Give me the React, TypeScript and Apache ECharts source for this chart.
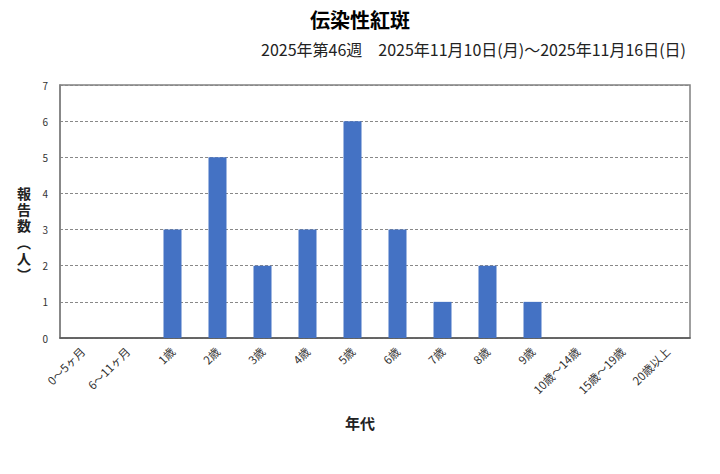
import React, { useEffect, useRef } from "react";
import * as echarts from "echarts";

const categories = ["0～5ヶ月", "6～11ヶ月", "1歳", "2歳", "3歳", "4歳", "5歳", "6歳", "7歳", "8歳", "9歳", "10歳～14歳", "15歳～19歳", "20歳以上"];
const values = [0, 0, 3, 5, 2, 3, 6, 3, 1, 2, 1, 0, 0, 0];
const titleText = "伝染性紅斑";
const subtitleText = "2025年第46週　2025年11月10日(月)～2025年11月16日(日)";
const yNameChars = ["報", "告", "数", "︵", "人", "︶"];
const yNameOffsets = [0, 16, 32, 49, 65, 81];
const xName = "年代";

const FONT = "'Noto Sans CJK JP', 'Noto Sans', sans-serif";
const NARROW_FONT = "'Liberation Sans', 'Noto Sans CJK JP', sans-serif";

export default function App() {
  const ref = useRef<HTMLDivElement>(null);
  useEffect(() => {
    const chart = echarts.init(ref.current!, null, { renderer: "svg" });
    const yNameGraphics = yNameChars.map((c, i) => ({
      type: "text",
      x: 24,
      y: 194 + yNameOffsets[i],
      style: {
        text: c,
        fontSize: 14,
        fontWeight: "bold",
        fill: "#222",
        fontFamily: NARROW_FONT,
        align: "center",
        verticalAlign: "middle",
      },
    }));
    chart.setOption({
      animation: false,
      textStyle: { fontFamily: FONT },
      title: {
        text: titleText,
        left: "center",
        top: 4,
        textStyle: { fontSize: 20, fontWeight: "bold", color: "#000", fontFamily: FONT },
      },
      graphic: [
        {
          type: "text",
          right: 34,
          top: 41,
          style: { text: subtitleText, fontSize: 16, fill: "#222", fontFamily: FONT },
        },
        ...yNameGraphics,
        {
          type: "text",
          left: "center",
          top: 415,
          style: { text: xName, fontSize: 15, fontWeight: "bold", fill: "#222", fontFamily: FONT },
        },
      ],
      grid: {
        left: 60,
        right: 30,
        top: 85,
        bottom: 136,
        show: true,
        borderColor: "#808080",
        borderWidth: 1.5,
        backgroundColor: "#fff",
      },
      xAxis: {
        type: "category",
        data: categories,
        axisLine: { lineStyle: { color: "#555", width: 1.5 } },
        axisTick: { show: false },
        axisLabel: { rotate: 45, fontSize: 11.5, color: "#333", interval: 0, margin: 11 },
      },
      yAxis: {
        type: "value",
        min: 0,
        max: 7,
        interval: 1,
        axisLine: { show: true, lineStyle: { color: "#808080", width: 1.5 } },
        axisTick: { show: false },
        axisLabel: { fontSize: 10, color: "#333", margin: 12 },
        splitLine: { lineStyle: { color: "#888", type: [3, 2], width: 1 } },
      },
      series: [
        {
          type: "bar",
          data: values,
          barWidth: "40%",
          itemStyle: { color: "#4472C4" },
        },
      ],
    });
    return () => chart.dispose();
  }, []);
  return <div ref={ref} style={{ width: 720, height: 474, margin: -8 }} />;
}
